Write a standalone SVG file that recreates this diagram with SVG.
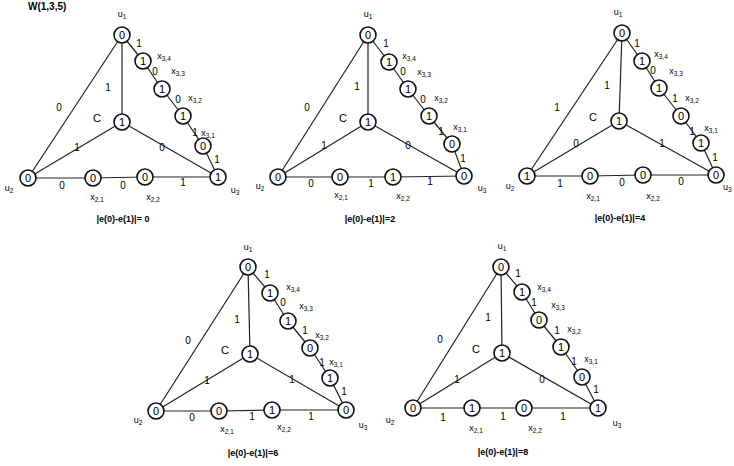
<svg xmlns="http://www.w3.org/2000/svg" width="734" height="466" viewBox="0 0 734 466">
<style>
text{font-family:"Liberation Sans",Arial,sans-serif;fill:#000}
.e line{stroke:#222;stroke-width:1.2}
.node circle{fill:#fff;stroke:#111;stroke-width:1.6}
.v{font-size:11px;text-anchor:middle}
.el{font-size:10px;text-anchor:middle}
.lb{font-size:9px;text-anchor:middle}
.sb{font-size:6.5px}
.cap{font-size:9px;text-anchor:middle;font-weight:bold}
.cl{font-size:11px;text-anchor:middle}
</style>
<rect width="734" height="466" fill="#fff"/>
<text x="28" y="10" style="font-size:10px;font-weight:bold">W(1,3,5)</text>

<!-- Graph 1 -->
<g id="g1">
<g id="g1-edges" class="e">
<line x1="122" y1="35" x2="143" y2="61"/><line x1="143" y1="61" x2="162" y2="89"/><line x1="162" y1="89" x2="183" y2="116"/><line x1="183" y1="116" x2="203" y2="146"/><line x1="203" y1="146" x2="218" y2="177"/>
<line x1="122" y1="35" x2="122" y2="122"/><line x1="122" y1="35" x2="28" y2="178"/><line x1="122" y1="122" x2="28" y2="178"/><line x1="122" y1="122" x2="218" y2="177"/>
<line x1="28" y1="178" x2="93" y2="178"/><line x1="93" y1="178" x2="145" y2="177"/><line x1="145" y1="177" x2="218" y2="177"/>
</g>
<g class="el">
<text x="139" y="47">1</text><text x="155" y="75">0</text><text x="178" y="103">0</text><text x="195" y="136">1</text><text x="217" y="163">1</text>
<text x="108" y="91">1</text><text x="59" y="111">0</text><text x="77" y="151">1</text><text x="162" y="151">0</text>
<text x="62" y="189">0</text><text x="123" y="189">0</text><text x="183" y="186">1</text>
</g>
<g id="g1-u1" class="node"><circle cx="122" cy="35" r="8"/><text class="v" x="122" y="39">0</text><text class="lb" x="122" y="17">u<tspan class="sb" dy="2">1</tspan></text></g>
<g id="g1-x34" class="node"><circle cx="143" cy="61" r="8"/><text class="v" x="143" y="65">1</text><text class="lb" x="164" y="59">x<tspan class="sb" dy="2">3,4</tspan></text></g>
<g id="g1-x33" class="node"><circle cx="162" cy="89" r="8"/><text class="v" x="162" y="93">1</text><text class="lb" x="178" y="74">x<tspan class="sb" dy="2">3,3</tspan></text></g>
<g id="g1-x32" class="node"><circle cx="183" cy="116" r="8"/><text class="v" x="183" y="120">1</text><text class="lb" x="195" y="101">x<tspan class="sb" dy="2">3,2</tspan></text></g>
<g id="g1-x31" class="node"><circle cx="203" cy="146" r="8"/><text class="v" x="203" y="150">0</text><text class="lb" x="208" y="136">x<tspan class="sb" dy="2">3,1</tspan></text></g>
<g id="g1-u3" class="node"><circle cx="218" cy="177" r="8"/><text class="v" x="218" y="181">1</text><text class="lb" x="235" y="193">u<tspan class="sb" dy="2">3</tspan></text></g>
<g id="g1-C" class="node"><circle cx="122" cy="122" r="8"/><text class="v" x="122" y="126">1</text><text class="cl" x="97" y="122">C</text></g>
<g id="g1-u2" class="node"><circle cx="28" cy="178" r="8"/><text class="v" x="28" y="182">0</text><text class="lb" x="9" y="191">u<tspan class="sb" dy="2">2</tspan></text></g>
<g id="g1-x21" class="node"><circle cx="93" cy="178" r="8"/><text class="v" x="93" y="182">0</text><text class="lb" x="97" y="200">x<tspan class="sb" dy="2">2,1</tspan></text></g>
<g id="g1-x22" class="node"><circle cx="145" cy="177" r="8"/><text class="v" x="145" y="181">0</text><text class="lb" x="153" y="200">x<tspan class="sb" dy="2">2,2</tspan></text></g>
<text class="cap" x="123" y="222">|e(0)-e(1)|= 0</text>
</g>

<!-- Graph 2 -->
<g id="g2">
<g id="g2-edges" class="e">
<line x1="368" y1="35" x2="389" y2="62"/><line x1="389" y1="62" x2="408" y2="89"/><line x1="408" y1="89" x2="429" y2="116"/><line x1="429" y1="116" x2="452" y2="144"/><line x1="452" y1="144" x2="464" y2="176"/>
<line x1="368" y1="35" x2="368" y2="122"/><line x1="368" y1="35" x2="278" y2="177"/><line x1="368" y1="122" x2="278" y2="177"/><line x1="368" y1="122" x2="464" y2="176"/>
<line x1="278" y1="177" x2="340" y2="177"/><line x1="340" y1="177" x2="393" y2="177"/><line x1="393" y1="177" x2="464" y2="176"/>
</g>
<g class="el">
<text x="386" y="47">1</text><text x="403" y="75">0</text><text x="423" y="103">0</text><text x="441" y="135">1</text><text x="463" y="162">1</text>
<text x="357" y="90">1</text><text x="307" y="111">0</text><text x="324" y="149">1</text><text x="408" y="149">0</text>
<text x="311" y="187">0</text><text x="371" y="187">1</text><text x="430" y="185">1</text>
</g>
<g id="g2-u1" class="node"><circle cx="368" cy="35" r="8"/><text class="v" x="368" y="39">0</text><text class="lb" x="368" y="17">u<tspan class="sb" dy="2">1</tspan></text></g>
<g id="g2-x34" class="node"><circle cx="389" cy="62" r="8"/><text class="v" x="389" y="66">1</text><text class="lb" x="409" y="59">x<tspan class="sb" dy="2">3,4</tspan></text></g>
<g id="g2-x33" class="node"><circle cx="408" cy="89" r="8"/><text class="v" x="408" y="93">1</text><text class="lb" x="424" y="75">x<tspan class="sb" dy="2">3,3</tspan></text></g>
<g id="g2-x32" class="node"><circle cx="429" cy="116" r="8"/><text class="v" x="429" y="120">1</text><text class="lb" x="441" y="101">x<tspan class="sb" dy="2">3,2</tspan></text></g>
<g id="g2-x31" class="node"><circle cx="452" cy="144" r="8"/><text class="v" x="452" y="148">0</text><text class="lb" x="460" y="130">x<tspan class="sb" dy="2">3,1</tspan></text></g>
<g id="g2-u3" class="node"><circle cx="464" cy="176" r="8"/><text class="v" x="464" y="180">0</text><text class="lb" x="482" y="191">u<tspan class="sb" dy="2">3</tspan></text></g>
<g id="g2-C" class="node"><circle cx="368" cy="122" r="8"/><text class="v" x="368" y="126">1</text><text class="cl" x="343" y="122">C</text></g>
<g id="g2-u2" class="node"><circle cx="278" cy="177" r="8"/><text class="v" x="278" y="181">0</text><text class="lb" x="260" y="189">u<tspan class="sb" dy="2">2</tspan></text></g>
<g id="g2-x21" class="node"><circle cx="340" cy="177" r="8"/><text class="v" x="340" y="181">0</text><text class="lb" x="341" y="198">x<tspan class="sb" dy="2">2,1</tspan></text></g>
<g id="g2-x22" class="node"><circle cx="393" cy="177" r="8"/><text class="v" x="393" y="181">1</text><text class="lb" x="403" y="199">x<tspan class="sb" dy="2">2,2</tspan></text></g>
<text class="cap" x="370" y="222">|e(0)-e(1)|=2</text>
</g>

<!-- Graph 3 -->
<g id="g3">
<g id="g3-edges" class="e">
<line x1="622" y1="33" x2="642" y2="61"/><line x1="642" y1="61" x2="659" y2="88"/><line x1="659" y1="88" x2="681" y2="116"/><line x1="681" y1="116" x2="701" y2="143"/><line x1="701" y1="143" x2="716" y2="175"/>
<line x1="622" y1="33" x2="619" y2="121"/><line x1="622" y1="33" x2="527" y2="176"/><line x1="619" y1="121" x2="527" y2="176"/><line x1="619" y1="121" x2="716" y2="175"/>
<line x1="527" y1="176" x2="590" y2="176"/><line x1="590" y1="176" x2="643" y2="175"/><line x1="643" y1="175" x2="716" y2="175"/>
</g>
<g class="el">
<text x="637" y="47">1</text><text x="653" y="74">0</text><text x="675" y="102">1</text><text x="692" y="135">1</text><text x="715" y="161">1</text>
<text x="607" y="89">1</text><text x="557" y="111">1</text><text x="576" y="147">0</text><text x="662" y="147">1</text>
<text x="560" y="187">1</text><text x="622" y="186">0</text><text x="681" y="185">0</text>
</g>
<g id="g3-u1" class="node"><circle cx="622" cy="33" r="8"/><text class="v" x="622" y="37">0</text><text class="lb" x="618" y="15">u<tspan class="sb" dy="2">1</tspan></text></g>
<g id="g3-x34" class="node"><circle cx="642" cy="61" r="8"/><text class="v" x="642" y="65">1</text><text class="lb" x="661" y="57">x<tspan class="sb" dy="2">3,4</tspan></text></g>
<g id="g3-x33" class="node"><circle cx="659" cy="88" r="8"/><text class="v" x="659" y="92">1</text><text class="lb" x="676" y="74">x<tspan class="sb" dy="2">3,3</tspan></text></g>
<g id="g3-x32" class="node"><circle cx="681" cy="116" r="8"/><text class="v" x="681" y="120">0</text><text class="lb" x="692" y="101">x<tspan class="sb" dy="2">3,2</tspan></text></g>
<g id="g3-x31" class="node"><circle cx="701" cy="143" r="8"/><text class="v" x="701" y="147">1</text><text class="lb" x="711" y="131">x<tspan class="sb" dy="2">3,1</tspan></text></g>
<g id="g3-u3" class="node"><circle cx="716" cy="175" r="8"/><text class="v" x="716" y="179">0</text><text x="723" y="190" style="font-size:9px">u<tspan class="sb" dy="2">3</tspan></text></g>
<g id="g3-C" class="node"><circle cx="619" cy="121" r="8"/><text class="v" x="619" y="125">1</text><text class="cl" x="593" y="121">C</text></g>
<g id="g3-u2" class="node"><circle cx="527" cy="176" r="8"/><text class="v" x="527" y="180">1</text><text class="lb" x="510" y="189">u<tspan class="sb" dy="2">2</tspan></text></g>
<g id="g3-x21" class="node"><circle cx="590" cy="176" r="8"/><text class="v" x="590" y="180">0</text><text class="lb" x="593" y="199">x<tspan class="sb" dy="2">2,1</tspan></text></g>
<g id="g3-x22" class="node"><circle cx="643" cy="175" r="8"/><text class="v" x="643" y="179">0</text><text class="lb" x="653" y="199">x<tspan class="sb" dy="2">2,2</tspan></text></g>
<text class="cap" x="620" y="221">|e(0)-e(1)|=4</text>
</g>

<!-- Graph 4 -->
<g id="g4">
<g id="g4-edges" class="e">
<line x1="248" y1="267" x2="270" y2="293"/><line x1="270" y1="293" x2="288" y2="321"/><line x1="288" y1="321" x2="310" y2="348"/><line x1="310" y1="348" x2="330" y2="378"/><line x1="330" y1="378" x2="346" y2="410"/>
<line x1="248" y1="267" x2="250" y2="354"/><line x1="248" y1="267" x2="156" y2="411"/><line x1="250" y1="354" x2="156" y2="411"/><line x1="250" y1="354" x2="346" y2="410"/>
<line x1="156" y1="411" x2="219" y2="411"/><line x1="219" y1="411" x2="272" y2="410"/><line x1="272" y1="410" x2="346" y2="410"/>
</g>
<g class="el">
<text x="267" y="278">1</text><text x="283" y="306">0</text><text x="305" y="334">1</text><text x="322" y="366">1</text><text x="344" y="395">1</text>
<text x="237" y="323">1</text><text x="188" y="344">0</text><text x="207" y="384">1</text><text x="292" y="383">1</text>
<text x="192" y="421">0</text><text x="252" y="420">1</text><text x="311" y="420">1</text>
</g>
<g id="g4-u1" class="node"><circle cx="248" cy="267" r="8"/><text class="v" x="248" y="271">0</text><text class="lb" x="248" y="250">u<tspan class="sb" dy="2">1</tspan></text></g>
<g id="g4-x34" class="node"><circle cx="270" cy="293" r="8"/><text class="v" x="270" y="297">1</text><text class="lb" x="293" y="290">x<tspan class="sb" dy="2">3,4</tspan></text></g>
<g id="g4-x33" class="node"><circle cx="288" cy="321" r="8"/><text class="v" x="288" y="325">1</text><text class="lb" x="306" y="309">x<tspan class="sb" dy="2">3,3</tspan></text></g>
<g id="g4-x32" class="node"><circle cx="310" cy="348" r="8"/><text class="v" x="310" y="352">0</text><text class="lb" x="322" y="338">x<tspan class="sb" dy="2">3,2</tspan></text></g>
<g id="g4-x31" class="node"><circle cx="330" cy="378" r="8"/><text class="v" x="330" y="382">1</text><text class="lb" x="336" y="365">x<tspan class="sb" dy="2">3,1</tspan></text></g>
<g id="g4-u3" class="node"><circle cx="346" cy="410" r="8"/><text class="v" x="346" y="414">0</text><text class="lb" x="363" y="428">u<tspan class="sb" dy="2">3</tspan></text></g>
<g id="g4-C" class="node"><circle cx="250" cy="354" r="8"/><text class="v" x="250" y="358">1</text><text class="cl" x="225" y="354">C</text></g>
<g id="g4-u2" class="node"><circle cx="156" cy="411" r="8"/><text class="v" x="156" y="415">0</text><text class="lb" x="138" y="423">u<tspan class="sb" dy="2">2</tspan></text></g>
<g id="g4-x21" class="node"><circle cx="219" cy="411" r="8"/><text class="v" x="219" y="415">0</text><text class="lb" x="227" y="432">x<tspan class="sb" dy="2">2,1</tspan></text></g>
<g id="g4-x22" class="node"><circle cx="272" cy="410" r="8"/><text class="v" x="272" y="414">1</text><text class="lb" x="284" y="430">x<tspan class="sb" dy="2">2,2</tspan></text></g>
<text class="cap" x="253" y="456">|e(0)-e(1)|=6</text>
</g>

<!-- Graph 5 -->
<g id="g5">
<g id="g5-edges" class="e">
<line x1="501" y1="267" x2="522" y2="292"/><line x1="522" y1="292" x2="539" y2="320"/><line x1="539" y1="320" x2="561" y2="347"/><line x1="561" y1="347" x2="582" y2="377"/><line x1="582" y1="377" x2="598" y2="408"/>
<line x1="501" y1="267" x2="502" y2="353"/><line x1="501" y1="267" x2="413" y2="408"/><line x1="502" y1="353" x2="413" y2="408"/><line x1="502" y1="353" x2="598" y2="408"/>
<line x1="413" y1="408" x2="472" y2="408"/><line x1="472" y1="408" x2="524" y2="408"/><line x1="524" y1="408" x2="598" y2="408"/>
</g>
<g class="el">
<text x="518" y="277">1</text><text x="534" y="306">1</text><text x="557" y="334">1</text><text x="574" y="365">1</text><text x="596" y="393">1</text>
<text x="488" y="321">1</text><text x="440" y="343">0</text><text x="457" y="383">1</text><text x="542" y="383">0</text>
<text x="443" y="421">1</text><text x="503" y="420">1</text><text x="563" y="420">1</text>
</g>
<g id="g5-u1" class="node"><circle cx="501" cy="267" r="8"/><text class="v" x="501" y="271">0</text><text class="lb" x="502" y="249">u<tspan class="sb" dy="2">1</tspan></text></g>
<g id="g5-x34" class="node"><circle cx="522" cy="292" r="8"/><text class="v" x="522" y="296">1</text><text class="lb" x="544" y="290">x<tspan class="sb" dy="2">3,4</tspan></text></g>
<g id="g5-x33" class="node"><circle cx="539" cy="320" r="8"/><text class="v" x="539" y="324">0</text><text class="lb" x="558" y="308">x<tspan class="sb" dy="2">3,3</tspan></text></g>
<g id="g5-x32" class="node"><circle cx="561" cy="347" r="8"/><text class="v" x="561" y="351">1</text><text class="lb" x="574" y="332">x<tspan class="sb" dy="2">3,2</tspan></text></g>
<g id="g5-x31" class="node"><circle cx="582" cy="377" r="8"/><text class="v" x="582" y="381">0</text><text class="lb" x="591" y="362">x<tspan class="sb" dy="2">3,1</tspan></text></g>
<g id="g5-u3" class="node"><circle cx="598" cy="408" r="8"/><text class="v" x="598" y="412">1</text><text class="lb" x="617" y="426">u<tspan class="sb" dy="2">3</tspan></text></g>
<g id="g5-C" class="node"><circle cx="502" cy="353" r="8"/><text class="v" x="502" y="357">1</text><text class="cl" x="476" y="353">C</text></g>
<g id="g5-u2" class="node"><circle cx="413" cy="408" r="8"/><text class="v" x="413" y="412">0</text><text class="lb" x="390" y="423">u<tspan class="sb" dy="2">2</tspan></text></g>
<g id="g5-x21" class="node"><circle cx="472" cy="408" r="8"/><text class="v" x="472" y="412">1</text><text class="lb" x="476" y="431">x<tspan class="sb" dy="2">2,1</tspan></text></g>
<g id="g5-x22" class="node"><circle cx="524" cy="408" r="8"/><text class="v" x="524" y="412">0</text><text class="lb" x="535" y="431">x<tspan class="sb" dy="2">2,2</tspan></text></g>
<text class="cap" x="503" y="455">|e(0)-e(1)|=8</text>
</g>
</svg>
